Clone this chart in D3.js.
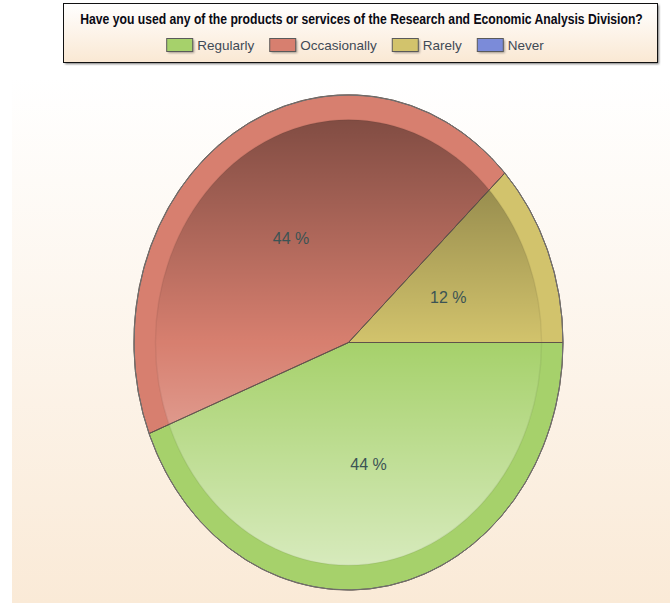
<!DOCTYPE html>
<html>
<head>
<meta charset="utf-8">
<script src="https://cdn.jsdelivr.net/npm/d3@7"></script>
<style>
  html, body { margin: 0; padding: 0; background: #ffffff; }
  svg { display: block; }
</style>
</head>
<body>
<svg id="chart" width="670" height="603"></svg>
<script>
// Survey answers and their share of responses (percent)
const categories = ["Regularly", "Occasionally", "Rarely", "Never"];
const shares = [44, 44, 12, 0];
const sliceColors = ["#a6d16b", "#d77f6f", "#d2c36c", "#7b8bd9"];
const chartTitle = "Have you used any of the products or services of the Research and Economic Analysis Division?";

const W = 670, H = 603;
const svg = d3.select("#chart");
const defs = svg.append("defs");

// ---- gradients ----
const panelGrad = defs.append("linearGradient").attr("id", "panelGrad")
  .attr("x1", 0).attr("y1", 0).attr("x2", 0).attr("y2", 1);
panelGrad.append("stop").attr("offset", 0).attr("stop-color", "#ffffff");
panelGrad.append("stop").attr("offset", 1).attr("stop-color", "#faead7");

const boxGrad = defs.append("linearGradient").attr("id", "boxGrad")
  .attr("x1", 0).attr("y1", 0).attr("x2", 0).attr("y2", 1);
boxGrad.append("stop").attr("offset", 0).attr("stop-color", "#ffffff");
boxGrad.append("stop").attr("offset", 1).attr("stop-color", "#fae8d3");

const shadeGrad = defs.append("linearGradient").attr("id", "shadeGrad")
  .attr("x1", 0).attr("y1", 0).attr("x2", 0).attr("y2", 1);
shadeGrad.append("stop").attr("offset", 0).attr("stop-color", "#000").attr("stop-opacity", 0.4);
shadeGrad.append("stop").attr("offset", 0.5).attr("stop-color", "#000").attr("stop-opacity", 0);
shadeGrad.append("stop").attr("offset", 0.5).attr("stop-color", "#fff").attr("stop-opacity", 0);
shadeGrad.append("stop").attr("offset", 1).attr("stop-color", "#fff").attr("stop-opacity", 0.55);

const blur = defs.append("filter").attr("id", "soft").attr("x", "-20%").attr("y", "-20%")
  .attr("width", "140%").attr("height", "140%");
blur.append("feGaussianBlur").attr("stdDeviation", 0.8);

// ---- plot panel ----
svg.append("rect").attr("x", 12).attr("y", 78).attr("width", W - 12).attr("height", H - 78)
  .attr("fill", "url(#panelGrad)");

// ---- title / legend box ----
const box = { x: 63, y: 3, w: 594, h: 59 };
svg.append("rect").attr("x", box.x + 2).attr("y", box.y + 2).attr("width", box.w).attr("height", box.h)
  .attr("fill", "#777").attr("filter", "url(#soft)");
svg.append("rect").attr("x", box.x + 0.5).attr("y", box.y + 0.5).attr("width", box.w).attr("height", box.h)
  .attr("fill", "url(#boxGrad)").attr("stroke", "#111").attr("stroke-width", 1);

// title in a condensed bold face: squeeze horizontally to the available width
const titleWidth = 563, titleCx = 361.5;
const titleG = svg.append("g");
const titleText = titleG.append("text")
  .attr("x", 0).attr("y", 0)
  .attr("text-anchor", "middle")
  .attr("font-family", "'Liberation Sans Narrow', 'Arial Narrow', 'Liberation Sans', Arial, sans-serif")
  .attr("font-weight", "bold").attr("font-size", 15)
  .attr("fill", "#0a0a14")
  .text(chartTitle);
const natural = titleText.node().getComputedTextLength();
const sx = Math.min(1, titleWidth / natural);
titleG.attr("transform", `translate(${titleCx},24) scale(${sx},1)`);

// legend row, laid out from measured label widths and centred in the box
const legend = svg.append("g");
const sw = 26, sh = 13, gapText = 5, gapItem = 15;
const items = legend.selectAll("g.item").data(categories).join("g").attr("class", "item");
items.append("rect").attr("class", "shadow")
  .attr("width", sw).attr("height", sh).attr("x", 2).attr("y", 2)
  .attr("fill", "#000").attr("opacity", 0.35).attr("filter", "url(#soft)");
items.append("rect").attr("class", "swatch")
  .attr("width", sw).attr("height", sh).attr("x", 0.5).attr("y", 0.5)
  .attr("fill", (d, i) => sliceColors[i]).attr("stroke", "#5a5a5a").attr("stroke-width", 1);
const labels = items.append("text")
  .attr("x", sw + gapText).attr("y", sh - 1)
  .attr("font-family", "'Liberation Sans', Arial, sans-serif").attr("font-size", 13.5)
  .attr("fill", "#3f4a56")
  .text(d => d);
let cursor = 0;
const offsets = [];
labels.each(function () {
  offsets.push(cursor);
  cursor += sw + gapText + this.getComputedTextLength() + gapItem;
});
const rowWidth = cursor - gapItem;
const rowStart = 355 - rowWidth / 2;
items.attr("transform", (d, i) => `translate(${rowStart + offsets[i]},38)`);

// ---- elliptical pie ----
const cx = 348.5, cy = 342.5, rx = 214.5, ry = 247.5;
const rim = 0.9;

const pie = d3.pie().value(d => d).sort(null)
  .startAngle(Math.PI / 2).endAngle(Math.PI / 2 + 2 * Math.PI);
const arcs = pie(shares);
const outerArc = d3.arc().innerRadius(0).outerRadius(1);

const pieG = svg.append("g").attr("transform", `translate(${cx},${cy}) scale(${rx},${ry})`);

// full slices in their base colour form the outer rim
pieG.selectAll("path.slice").data(arcs.filter(a => a.value > 0)).join("path")
  .attr("class", "slice")
  .attr("d", outerArc)
  .attr("fill", d => sliceColors[d.index])
  .attr("stroke", "#6e5e55").attr("stroke-opacity", 0.75).attr("stroke-width", 1)
  .attr("vector-effect", "non-scaling-stroke");

// inner disc: shaded from dark at the top to light at the bottom
pieG.append("ellipse").attr("cx", 0).attr("cy", 0).attr("rx", rim).attr("ry", rim)
  .attr("fill", "url(#shadeGrad)");
pieG.append("ellipse").attr("cx", 0).attr("cy", 0).attr("rx", rim).attr("ry", rim)
  .attr("fill", "none").attr("stroke", "#000").attr("stroke-opacity", 0.06).attr("stroke-width", 1.5)
  .attr("vector-effect", "non-scaling-stroke");

// slice dividers on top of the shading
pieG.selectAll("path.edge").data(arcs.filter(a => a.value > 0)).join("path")
  .attr("class", "edge")
  .attr("d", outerArc)
  .attr("fill", "none")
  .attr("stroke", "#5e5048").attr("stroke-opacity", 0.7).attr("stroke-width", 1)
  .attr("vector-effect", "non-scaling-stroke");

// outline of the whole pie
pieG.append("ellipse").attr("cx", 0).attr("cy", 0).attr("rx", 1).attr("ry", 1)
  .attr("fill", "none").attr("stroke", "#707070").attr("stroke-width", 1)
  .attr("vector-effect", "non-scaling-stroke");

// percentage labels halfway out along each slice's mid angle
const labelArc = d3.arc().innerRadius(0.5).outerRadius(0.5);
svg.append("g").selectAll("text").data(arcs.filter(a => a.value > 0)).join("text")
  .attr("transform", d => {
    const [x, y] = labelArc.centroid(d);
    return `translate(${cx + x * rx},${cy + y * ry})`;
  })
  .attr("text-anchor", "middle").attr("dy", "0.36em")
  .attr("font-family", "'Liberation Sans', Arial, sans-serif").attr("font-size", 16)
  .attr("fill", "#3b5354")
  .text(d => `${d.value} %`);
</script>
</body>
</html>
